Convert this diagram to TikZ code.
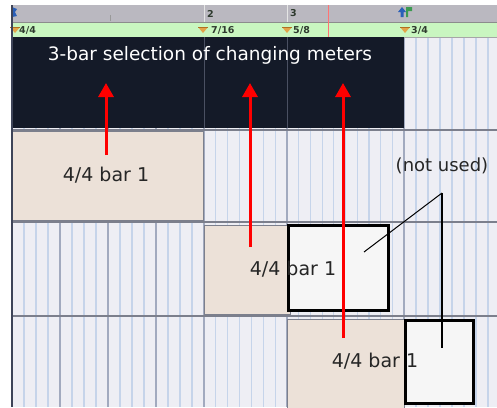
\documentclass[tikz,border=0pt]{standalone}
\usepackage{fontspec}
\setmainfont{DejaVu Sans}
\usetikzlibrary{arrows.meta}
\definecolor{lanebg}{HTML}{EEEEF4}
\definecolor{gridlt}{HTML}{C6D4EA}
\definecolor{griddk}{HTML}{A2AABF}
\definecolor{beige}{HTML}{ECE1D8}
\definecolor{selbg}{HTML}{141A28}
\definecolor{selline}{HTML}{4A5062}
\definecolor{rulergray}{HTML}{BAB8C0}
\definecolor{rulergreen}{HTML}{C9F6C0}
\definecolor{boxfill}{HTML}{F6F6F6}
\definecolor{sepline}{HTML}{7C7F8C}
\definecolor{marker}{HTML}{E2A448}
\definecolor{markerdk}{HTML}{B07020}
\definecolor{edgeline}{HTML}{3E4458}
\definecolor{rulertext}{HTML}{2E3A2E}
\definecolor{iconblue}{HTML}{2A5FB8}
\definecolor{icongreen}{HTML}{3C9A50}
\tikzset{
  region/.style={draw=sepline, line width=0.8pt, fill=beige, inner sep=0pt, outer sep=0pt, anchor=north west},
  whitebox/.style={draw=black, line width=3pt, fill=boxfill, inner sep=0pt, outer sep=0pt, anchor=north west},
  selbox/.style={fill=selbg, inner sep=0pt, outer sep=0pt, anchor=north west},
  label/.style={font=\fontsize{19}{22}\selectfont, text=black!85, inner sep=0pt},
  seltext/.style={font=\fontsize{18.5}{22}\selectfont, text=white, inner sep=0pt},
  rulerlabel/.style={font=\bfseries\fontsize{9.5}{11}\selectfont, text=rulertext, inner sep=0pt, anchor=west},
  redarrow/.style={draw=red, line width=3pt, -{Triangle[width=15pt,length=14pt]}},
  pointer/.style={draw=black, line width=1pt},
  gl/.style={draw=gridlt, line width=1.2pt},
  gd/.style={draw=griddk, line width=1.1pt},
}
\begin{document}
\begin{tikzpicture}[x=1pt,y=-1pt]
\useasboundingbox (0,0) rectangle (497,407);
\fill[white] (0,0) rectangle (497,407);
% lanes background
\fill[lanebg] (12,128) rectangle (497,407);
\fill[lanebg] (404,37) rectangle (497,128);
% grid lines
\foreach \i in {1,...,15} {\draw[gl] ({12+\i*12},128) -- ({12+\i*12},407);}
\foreach \i in {4,8,12} {\draw[gd] ({12+\i*12},128) -- ({12+\i*12},407);}
\foreach \i in {1,...,6} {\draw[gl] ({204+\i*11.857},128) -- ({204+\i*11.857},407);}
\foreach \i in {1,...,9} {\draw[gl] ({287+\i*11.7},128) -- ({287+\i*11.7},407);}
\foreach \i in {1,...,8} {\draw[gl] ({404+\i*12},37) -- ({404+\i*12},407);}
\foreach \x in {204,287,404} {\draw[gd] (\x,37) -- (\x,407);}
% row separators
\foreach \y in {130,222,316} {\draw[sepline, line width=1.3pt] (12,\y) -- (497,\y);}
% rulers
\fill[rulergray] (12,5) rectangle (497,22);
\fill[rulergreen] (12,22) rectangle (497,37);
\draw[black!45, line width=0.6pt] (12,22) -- (497,22);
\draw[black!35, line width=0.6pt] (12,37) -- (497,37);
\draw[white!80!gray, line width=0.8pt] (204,5) -- (204,22);
\draw[white!80!gray, line width=0.8pt] (287,5) -- (287,22);
\draw[black!40, line width=0.6pt] (110,15) -- (110,21);
\draw[red!55, line width=0.8pt] (328,5) -- (328,37);
\node[rulerlabel] (bar2) at (207,13.5) {2};
\node[rulerlabel] (bar3) at (290,13.5) {3};
% start marker and icon
\fill[iconblue] (12,7) -- (17,9) -- (15,12) -- (17,16) -- (12,17) -- cycle;
\fill[iconblue] (398,12) -- (402,7) -- (406,12) -- (403.5,12) -- (403.5,17) -- (400.5,17) -- (400.5,12) -- cycle;
\fill[icongreen] (406,7) -- (412,7) -- (412,11) -- (408,11) -- (408,17) -- (406,17) -- cycle;
% meter markers
\foreach \x in {15,203,287,405} {
  \fill[marker] ({\x-5},27) -- ({\x+5},27) -- (\x,33) -- cycle;
  \draw[markerdk, line width=0.6pt] ({\x-5},27) -- ({\x+5},27);
}
\node[rulerlabel] (mt1) at (19,30) {4/4};
\node[rulerlabel] (mt2) at (211,30) {7/16};
\node[rulerlabel] (mt3) at (293,30) {5/8};
\node[rulerlabel] (mt4) at (411,30) {3/4};
% selection
\node[selbox, minimum width=392pt, minimum height=91pt] (sel) at (12,37) {};
\draw[selline, line width=1pt] (204,37) -- (204,128);
\draw[selline, line width=1pt] (287,37) -- (287,128);
\node[seltext] (seltxt) at (210,55) {3-bar selection of changing meters};
% regions
\node[region, minimum width=191pt, minimum height=89pt] (r1) at (12,131) {};
\node[region, minimum width=86pt, minimum height=89pt] (r2) at (204,225) {};
\node[region, minimum width=117pt, minimum height=89pt] (r3) at (287,319) {};
\node[whitebox, minimum width=100pt, minimum height=85pt] (w2) at (288.5,225.5) {};
\node[whitebox, minimum width=68pt, minimum height=83pt] (w3) at (405.5,320.5) {};
% labels
\node[label] (l1) at (106,175) {4/4 bar 1};
\node[label] (l2) at (293,269) {4/4 bar 1};
\node[label] (l3) at (375,361) {4/4 bar 1};
\node[label, font=\fontsize{18}{22}\selectfont] (nu) at (442,166) {(not used)};
% pointers
\coordinate (apex) at (442,193);
\coordinate (p2) at (364,252);
\coordinate (p3) at (442,348);
\draw[pointer] (apex) -- (p2);
\draw[pointer, line width=1.4pt] (apex) -- (p3);
% red arrows
\coordinate (a1s) at (106,155);
\coordinate (a1e) at (106,83);
\coordinate (a2s) at (250,247);
\coordinate (a2e) at (250,83);
\coordinate (a3s) at (343,338);
\coordinate (a3e) at (343,83);
\draw[redarrow] (a1s) -- (a1e);
\draw[redarrow] (a2s) -- (a2e);
\draw[redarrow] (a3s) -- (a3e);
% left edge
\draw[edgeline, line width=1.5pt] (12,5) -- (12,407);
\end{tikzpicture}
\end{document}
